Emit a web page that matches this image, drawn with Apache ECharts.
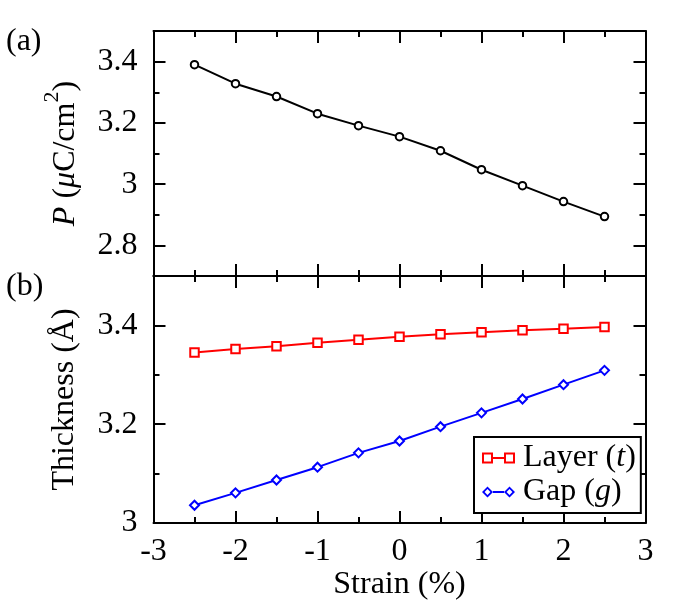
<!DOCTYPE html>
<html>
<head>
<meta charset="utf-8">
<style>
  html, body { margin: 0; padding: 0; background: #fff; }
  #chart { width: 675px; height: 615px; }
</style>
<script src="https://cdn.jsdelivr.net/npm/echarts@6/dist/echarts.min.js"></script>
</head>
<body>
<div id="chart"></div>
<script>
// Strain dependence of polarization (a) and layer / gap thickness (b).
const strain = [-2.5, -2, -1.5, -1, -0.5, 0, 0.5, 1, 1.5, 2, 2.5];
const polarization = [3.390, 3.328, 3.286, 3.230, 3.191, 3.155, 3.109, 3.047, 2.995, 2.943, 2.894];
const layerT = [3.345, 3.352, 3.358, 3.365, 3.371, 3.377, 3.382, 3.386, 3.390, 3.393, 3.397];
const gapG = [3.036, 3.061, 3.087, 3.113, 3.142, 3.166, 3.195, 3.223, 3.251, 3.280, 3.309];

const topMajor = [2.8, 3, 3.2, 3.4];
const topMinor = [2.9, 3.1, 3.3];
const botMajor = [3, 3.2, 3.4];
const botMinor = [3.1, 3.3];

const FONT = "'Liberation Serif', 'DejaVu Serif', serif";
const FS = 32;
const pairs = (ys) => strain.map((x, i) => [x, ys[i]]);

const L = 153.5, W = 492;

function xAxisFor(grid, position, withLabel) {
  return {
    type: "value", gridIndex: grid, position, min: -3, max: 3, interval: 1,
    axisLine: { show: true, onZero: false, lineStyle: { color: "#000", width: 2 } },
    axisTick: { show: true, inside: true, length: 12, lineStyle: { color: "#000", width: 2 } },
    minorTick: { show: true, splitNumber: 2, length: 6, lineStyle: { color: "#000", width: 2 } },
    axisLabel: { show: withLabel, color: "#000", fontFamily: FONT, fontSize: FS, margin: 13,
      formatter: (v) => String(v) },
    splitLine: { show: false }, minorSplitLine: { show: false },
    name: withLabel ? "Strain (%)" : "", nameLocation: "middle", nameGap: 43,
    nameTextStyle: { color: "#000", fontFamily: FONT, fontSize: FS },
  };
}

function yAxisFor(grid, position, min, max, ticks, len, opts) {
  opts = opts || {};
  return Object.assign({
    type: "value", gridIndex: grid, position, min, max,
    axisLine: { show: !!opts.line, onZero: false, lineStyle: { color: "#000", width: 2 } },
    axisTick: { show: true, inside: true, length: len, customValues: ticks, lineStyle: { color: "#000", width: 2 } },
    axisLabel: { show: !!opts.label, customValues: ticks, color: "#000", fontFamily: FONT, fontSize: FS, margin: 16,
      formatter: (v) => String(+v.toFixed(1)) },
    splitLine: { show: false },
  }, opts.extra || {});
}

const nameStyle = {
  color: "#000", fontFamily: FONT, fontSize: FS, verticalAlign: "bottom",
  rich: {
    n: { fontFamily: FONT, fontSize: FS, color: "#000", lineHeight: 34, verticalAlign: "bottom" },
    i: { fontFamily: FONT, fontSize: FS, color: "#000", fontStyle: "italic", lineHeight: 34, verticalAlign: "bottom" },
    s: { fontFamily: FONT, fontSize: 22, color: "#000", lineHeight: 22, padding: [0, 0, 18, 0], verticalAlign: "bottom" },
  },
};

const option = {
  animation: false,
  backgroundColor: "#fff",
  textStyle: { fontFamily: FONT },
  title: [
    { text: "(a)", left: 1, top: 21, textStyle: { fontFamily: FONT, fontSize: FS, fontWeight: "normal", color: "#000" } },
    { text: "(b)", left: 1, top: 266, textStyle: { fontFamily: FONT, fontSize: FS, fontWeight: "normal", color: "#000" } },
  ],
  grid: [
    { left: L, top: 31, width: W, height: 245 },
    { left: L, top: 276, width: W, height: 247 },
  ],
  xAxis: [
    xAxisFor(0, "bottom", false),
    xAxisFor(0, "top", false),
    xAxisFor(1, "bottom", true),
    xAxisFor(1, "top", false),
  ],
  yAxis: [
    yAxisFor(0, "left", 2.7, 3.5, topMajor, 12, { line: true, label: true, extra: {
      name: "{i|P} {n|(}{i|μ}{n|C/cm}{s|2}{n|)}", nameLocation: "middle", nameGap: 72, nameTextStyle: nameStyle } }),
    yAxisFor(0, "left", 2.7, 3.5, topMinor, 6),
    yAxisFor(0, "right", 2.7, 3.5, topMajor, 12, { line: true }),
    yAxisFor(0, "right", 2.7, 3.5, topMinor, 6),
    yAxisFor(1, "left", 3, 3.5, botMajor, 12, { line: true, label: true, extra: {
      name: "Thickness (Å)", nameLocation: "middle", nameGap: 73,
      nameTextStyle: { color: "#000", fontFamily: FONT, fontSize: FS } } }),
    yAxisFor(1, "left", 3, 3.5, botMinor, 6),
    yAxisFor(1, "right", 3, 3.5, botMajor, 12, { line: true }),
    yAxisFor(1, "right", 3, 3.5, botMinor, 6),
  ],
  legend: {
    orient: "vertical", left: 474, top: 437,
    backgroundColor: "#fff", borderColor: "#000", borderWidth: 2,
    padding: [5, 5, 5, 8], itemGap: 2, itemWidth: 33, itemHeight: 11,
    textStyle: { color: "#000", fontFamily: FONT, fontSize: FS, lineHeight: 31, padding: [0, 0, 0, 3],
      rich: {
        n: { fontFamily: FONT, fontSize: FS, color: "#000" },
        i: { fontFamily: FONT, fontSize: FS, color: "#000", fontStyle: "italic" },
      } },
    formatter: (name) => name === "Layer" ? "{n|Layer (}{i|t}{n|)}" : "{n|Gap (}{i|g}{n|)}",
    data: [
      { name: "Layer", itemStyle: { color: "#ff0000", borderWidth: 0 },
        icon: "path://M0,0L11,0L11,11L0,11ZM2,2L2,9L9,9L9,2ZM11,4.6L22,4.6L22,6.4L11,6.4ZM22,0L33,0L33,11L22,11ZM24,2L24,9L31,9L31,2Z" },
      { name: "Gap", itemStyle: { color: "#0000ff", borderWidth: 0 },
        icon: "path://M5.5,0L11,5.5L5.5,11L0,5.5ZM5.5,2.6L2.6,5.5L5.5,8.4L8.4,5.5ZM11,4.6L22,4.6L22,6.4L11,6.4ZM27.5,0L33,5.5L27.5,11L22,5.5ZM27.5,2.6L24.6,5.5L27.5,8.4L30.4,5.5Z" },
    ],
  },
  series: [
    { name: "P", type: "line", xAxisIndex: 0, yAxisIndex: 0, data: pairs(polarization),
      symbol: "emptyCircle", symbolSize: 7.5, color: "#000",
      lineStyle: { color: "#000", width: 2 }, itemStyle: { color: "#000", borderWidth: 2.2 } },
    { name: "Layer", type: "line", xAxisIndex: 2, yAxisIndex: 4, data: pairs(layerT),
      symbol: "emptyRect", symbolSize: 8.5, color: "#ff0000",
      lineStyle: { color: "#ff0000", width: 2 }, itemStyle: { color: "#ff0000", borderWidth: 2.2 } },
    { name: "Gap", type: "line", xAxisIndex: 2, yAxisIndex: 4, data: pairs(gapG),
      symbol: "emptyDiamond", symbolSize: 9, color: "#0000ff",
      lineStyle: { color: "#0000ff", width: 2 }, itemStyle: { color: "#0000ff", borderWidth: 2.2 } },
  ],
};

const chart = echarts.init(document.getElementById("chart"), null, { renderer: "canvas" });
chart.setOption(option);
</script>
</body>
</html>
